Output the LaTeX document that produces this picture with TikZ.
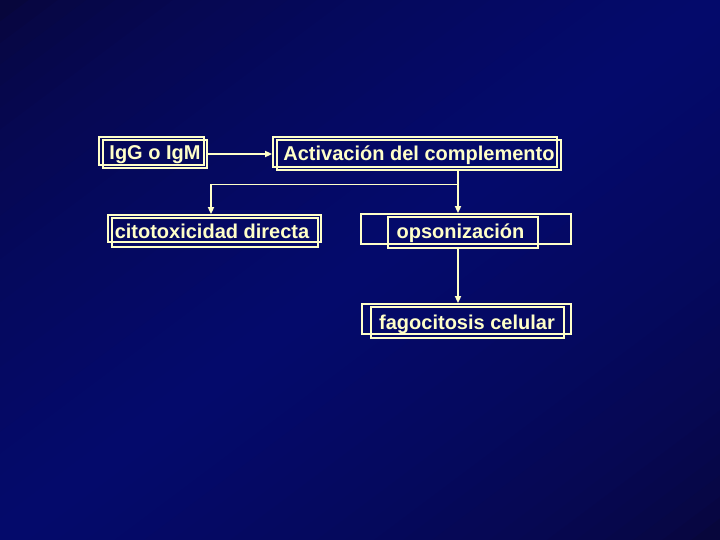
\documentclass[tikz,border=0pt]{standalone}
\usepackage{fontspec}
\setmainfont{Liberation Sans}
\usetikzlibrary{arrows.meta}
\definecolor{bgdark}{RGB}{8,5,52}
\definecolor{bgmid}{RGB}{4,10,108}
\definecolor{lineyel}{RGB}{255,255,200}
\tikzset{
  frame/.style={draw=lineyel, line width=1.8pt, inner sep=0pt, minimum width=#1},
  lbl/.style={text=lineyel, font=\fontsize{20}{24}\selectfont\bfseries, inner sep=0pt, anchor=base},
  conn/.style={draw=lineyel, line width=1.8pt},
  arr/.style={conn, -{Triangle[length=7pt,width=6pt]}}
}
\begin{document}
\begin{tikzpicture}[x=1pt,y=-1pt]
\useasboundingbox (0,0) rectangle (720,540);
% background gradient: dark at top-left and bottom-right, brighter across the middle
\begin{scope}[x=720pt,y=-540pt]
  \clip (0,0) rectangle (1,1);
  \fill[bgdark] (0,0) rectangle (1,1);
  \foreach \i in {0,...,49} {
    \pgfmathsetmacro{\sa}{\i/25}
    \pgfmathsetmacro{\sb}{(\i+1.3)/25}
    \pgfmathsetmacro{\p}{100*(1-abs((\i+0.5)/25-1))^0.5}
    \fill[bgmid!\p!bgdark] (\sa+1,-1) -- (-1,\sa+1) -- (-1,\sb+1) -- (\sb+1,-1) -- cycle;
  }
\end{scope}

% IgG o IgM
\node[frame=105pt, minimum height=28pt] (iggA) at (151.5,151) {};
\node[frame=104pt, minimum height=28pt] (iggB) at (155,154) {};
\node[lbl] (igg) at (155,160) {IgG o IgM};

% Activacion del complemento
\node[frame=284pt, minimum height=30pt] (actA) at (415,152) {};
\node[frame=284pt, minimum height=30pt] (actB) at (419,155) {};
\node[lbl] (act) at (419,161) {Activación del complemento};

% citotoxicidad directa
\node[frame=213pt, minimum height=27pt] (citA) at (214.5,228.5) {};
\node[frame=206pt, minimum height=29pt] (citB) at (215,232.5) {};
\node[lbl] (cit) at (212,239) {citotoxicidad directa};

% opsonizacion
\node[frame=210pt, minimum height=30pt] (opsA) at (466,229) {};
\node[frame=150pt, minimum height=31pt] (opsB) at (463,232.5) {};
\node[lbl] (ops) at (460.5,239) {opsonización};

% fagocitosis celular
\node[frame=209pt, minimum height=30pt] (fagA) at (466.5,319) {};
\node[frame=193pt, minimum height=31pt] (fagB) at (467.5,322.5) {};
\node[lbl] (fag) at (467,329) {fagocitosis celular};

% connectors
\coordinate (split) at (458,184.5);
\coordinate (leftturn) at (211,184.5);
\draw[arr] (iggB.east |- 0,154) -- (actA.west |- 0,154);
\draw[arr] (split |- actB.south) -- (split |- opsA.north);
\draw[arr] (split) -- (leftturn) -- (leftturn |- citA.north);
\draw[arr] (split |- opsB.south) -- (split |- fagA.north);
\end{tikzpicture}
\end{document}
